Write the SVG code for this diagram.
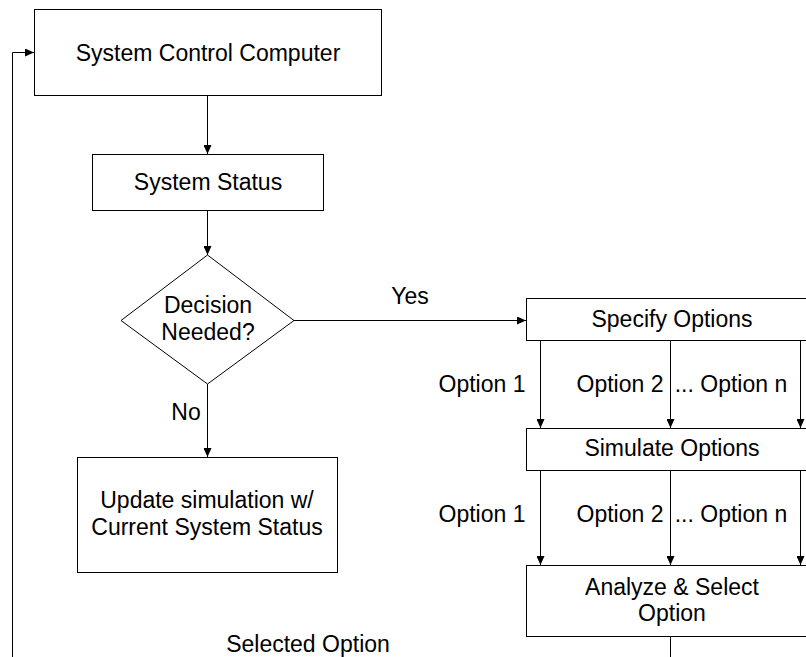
<svg xmlns="http://www.w3.org/2000/svg" width="806" height="657" viewBox="0 0 806 657">
<defs>
<marker id="ah" markerWidth="9" markerHeight="8" refX="9" refY="4" orient="auto" markerUnits="userSpaceOnUse">
<path d="M0,0 L9,4 L0,8 Z" fill="#000"/>
</marker>
<style>
.box{fill:#fff;stroke:#000;stroke-width:1}
.ln{fill:none;stroke:#000;stroke-width:1}
.arr{fill:none;stroke:#000;stroke-width:1;marker-end:url(#ah)}
text{font-family:"Liberation Sans",Arial,sans-serif;font-size:23px;fill:#000}
.c{text-anchor:middle}
</style>
</defs>
<rect width="806" height="657" fill="#fff"/>
<g id="connectors">
<line class="arr" x1="207.5" y1="96" x2="207.5" y2="154"/>
<line class="arr" x1="207.5" y1="211" x2="207.5" y2="255"/>
<line class="arr" x1="294" y1="320.5" x2="526" y2="320.5"/>
<line class="arr" x1="207.5" y1="384" x2="207.5" y2="457"/>
<line class="arr" x1="540.5" y1="341" x2="540.5" y2="428"/>
<line class="arr" x1="670.5" y1="341" x2="670.5" y2="428"/>
<line class="arr" x1="800.5" y1="341" x2="800.5" y2="428"/>
<line class="arr" x1="540.5" y1="471" x2="540.5" y2="565"/>
<line class="arr" x1="670.5" y1="471" x2="670.5" y2="565"/>
<line class="arr" x1="800.5" y1="471" x2="800.5" y2="565"/>
<line class="ln" x1="670.5" y1="637" x2="670.5" y2="657"/>
<polyline class="arr" points="12.5,657 12.5,52.5 34,52.5"/>
<text x="410" y="304" class="c">Yes</text>
<text x="186" y="420" class="c">No</text>
<text x="482" y="392" class="c">Option 1</text>
<text x="620" y="392" class="c">Option 2</text>
<text x="731" y="392" class="c">... Option n</text>
<text x="482" y="522" class="c">Option 1</text>
<text x="620" y="522" class="c">Option 2</text>
<text x="731" y="522" class="c">... Option n</text>
<text x="308" y="652" class="c">Selected Option</text>
</g>
<g id="system-control-computer">
<rect class="box" x="34.5" y="9.5" width="347" height="86"/>
<text x="208" y="61" class="c">System Control Computer</text>
</g>
<g id="system-status">
<rect class="box" x="92.5" y="154.5" width="231" height="56"/>
<text x="208" y="190" class="c">System Status</text>
</g>
<g id="decision">
<polygon class="box" points="207.5,255 294,320.5 207.5,384 121,320.5"/>
<text x="208" y="313" class="c">Decision</text>
<text x="208" y="340" class="c">Needed?</text>
</g>
<g id="update-simulation">
<rect class="box" x="77.5" y="457.5" width="260" height="115"/>
<text x="207" y="508" class="c">Update simulation w/</text>
<text x="207" y="535" class="c">Current System Status</text>
</g>
<g id="specify-options">
<rect class="box" x="526.5" y="298.5" width="292" height="42"/>
<text x="672" y="327" class="c">Specify Options</text>
</g>
<g id="simulate-options">
<rect class="box" x="526.5" y="428.5" width="292" height="42"/>
<text x="672" y="456" class="c">Simulate Options</text>
</g>
<g id="analyze-select">
<rect class="box" x="526.5" y="565.5" width="292" height="71"/>
<text x="672" y="595" class="c">Analyze &amp; Select</text>
<text x="672" y="621" class="c">Option</text>
</g>
</svg>
